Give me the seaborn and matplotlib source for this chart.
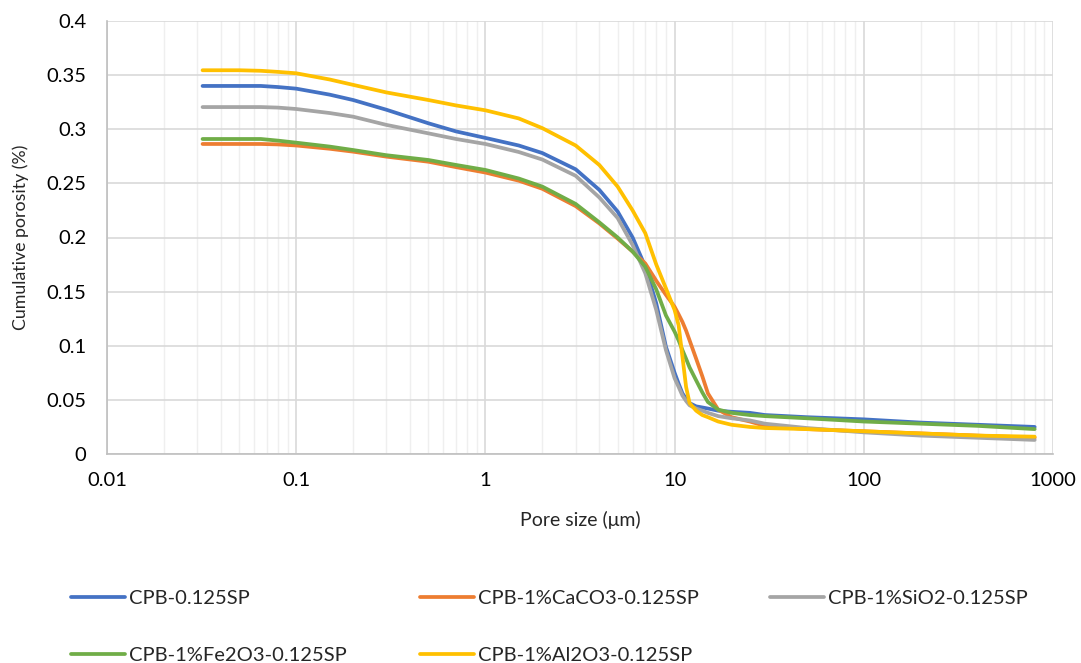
import numpy as np
import pandas as pd
import matplotlib
matplotlib.use("Agg")
import matplotlib.pyplot as plt
import seaborn as sns
from matplotlib.ticker import LogLocator, FixedLocator

pore_size = [0.032, 0.05, 0.065, 0.08, 0.1, 0.15, 0.2, 0.3, 0.5, 0.7, 1, 1.5, 2, 3, 4, 5, 6, 7, 8, 9,
             10, 10.5, 11, 11.5, 12, 13, 14, 15, 17, 20, 25, 30, 50, 100, 200, 400, 800]

cpb_sp = [0.340, 0.340, 0.340, 0.339, 0.3375, 0.332, 0.327, 0.318, 0.3055, 0.298, 0.292, 0.285, 0.278,
          0.263, 0.244, 0.224, 0.200, 0.173, 0.139, 0.099, 0.075, 0.065, 0.056, 0.051, 0.047, 0.044,
          0.043, 0.042, 0.040, 0.039, 0.038, 0.036, 0.034, 0.032, 0.029, 0.027, 0.025]
cpb_caco3 = [0.2864, 0.2864, 0.2864, 0.286, 0.285, 0.282, 0.2793, 0.2747, 0.270, 0.265, 0.260, 0.2525,
             0.245, 0.229, 0.213, 0.199, 0.187, 0.176, 0.160, 0.147, 0.136, 0.129, 0.122, 0.114, 0.105,
             0.088, 0.072, 0.056, 0.041, 0.034, 0.030, 0.026, 0.023, 0.021, 0.019, 0.017, 0.015]
cpb_sio2 = [0.3205, 0.3205, 0.3205, 0.320, 0.3187, 0.315, 0.3116, 0.304, 0.2962, 0.291, 0.2864, 0.279,
            0.272, 0.257, 0.237, 0.218, 0.193, 0.167, 0.133, 0.096, 0.070, 0.062, 0.054, 0.049, 0.045,
            0.042, 0.040, 0.038, 0.035, 0.033, 0.031, 0.028, 0.024, 0.020, 0.017, 0.015, 0.013]
cpb_fe2o3 = [0.291, 0.291, 0.291, 0.2895, 0.2876, 0.284, 0.2808, 0.276, 0.2716, 0.267, 0.2624, 0.2545,
             0.247, 0.231, 0.214, 0.200, 0.187, 0.173, 0.152, 0.128, 0.113, 0.105, 0.096, 0.088, 0.080,
             0.068, 0.057, 0.048, 0.041, 0.038, 0.036, 0.035, 0.033, 0.030, 0.028, 0.026, 0.023]
cpb_al2o3 = [0.3545, 0.3545, 0.354, 0.353, 0.3517, 0.346, 0.341, 0.334, 0.327, 0.322, 0.3175, 0.310,
             0.301, 0.285, 0.267, 0.247, 0.225, 0.204, 0.175, 0.153, 0.133, 0.119, 0.090, 0.062, 0.047,
             0.040, 0.036, 0.034, 0.030, 0.027, 0.025, 0.024, 0.023, 0.021, 0.019, 0.017, 0.016]

series_names = ["CPB-0.125SP", "CPB-1%CaCO3-0.125SP", "CPB-1%SiO2-0.125SP",
                "CPB-1%Fe2O3-0.125SP", "CPB-1%Al2O3-0.125SP"]
series_values = [cpb_sp, cpb_caco3, cpb_sio2, cpb_fe2o3, cpb_al2o3]
colors = ["#4472C4", "#ED7D31", "#A5A5A5", "#70AD47", "#FFC000"]

x_ticks = [0.01, 0.1, 1, 10, 100, 1000]
x_tick_labels = ["0.01", "0.1", "1", "10", "100", "1000"]
y_ticks = [0, 0.05, 0.1, 0.15, 0.2, 0.25, 0.3, 0.35, 0.4]
y_tick_labels = ["0", "0.05", "0.1", "0.15", "0.2", "0.25", "0.3", "0.35", "0.4"]

rows = []
for name, vals in zip(series_names, series_values):
    for xv, yv in zip(pore_size, vals):
        rows.append({"Pore size": xv, "Porosity": yv, "Series": name})
df = pd.DataFrame(rows)

sns.set_theme(style="white")
plt.rcParams["font.family"] = ["Lato", "DejaVu Sans"]

fig = plt.figure(figsize=(10.81, 6.63), dpi=100)
ax = fig.add_axes([107 / 1081, 1 - 454 / 663, (1053 - 107) / 1081, (454 - 21) / 663])

sns.lineplot(data=df, x="Pore size", y="Porosity", hue="Series", hue_order=series_names,
             palette=colors, estimator=None, sort=False, linewidth=2.7, ax=ax, legend=True)
ax.set_xscale("log")
ax.set_xlim(0.01, 1000)
ax.set_ylim(0, 0.4)

ax.xaxis.set_major_locator(FixedLocator(x_ticks))
ax.set_xticklabels(x_tick_labels)
ax.xaxis.set_minor_locator(LogLocator(base=10, subs=np.arange(2, 10), numticks=20))
ax.set_yticks(y_ticks)
ax.set_yticklabels(y_tick_labels)

ax.grid(True, which="major", color="#D9D9D9", linewidth=1.2)
ax.grid(True, which="minor", axis="x", color="#EFEFEF", linewidth=1.0)
ax.set_axisbelow(True)
ax.tick_params(axis="both", which="both", length=0, labelsize=14.5, colors="#000000")
ax.tick_params(axis="x", pad=13)
ax.tick_params(axis="y", pad=15)
for s in ["top", "right"]:
    ax.spines[s].set_visible(False)
for s in ["left", "bottom"]:
    ax.spines[s].set_color("#BFBFBF")
    ax.spines[s].set_linewidth(1.2)

ax.set_xlabel("Pore size (μm)", fontsize=14, labelpad=16)
ax.set_ylabel("Cumulative porosity (%)", fontsize=12.8, labelpad=12)

handles, labels = ax.get_legend_handles_labels()
ax.get_legend().remove()
positions = [(71, 598), (420, 598), (770, 598), (71, 655), (420, 655)]
for h, l, (px, py) in zip(handles, labels, positions):
    fig.legend([h], [l], loc="center left", bbox_to_anchor=(px / 1081, 1 - py / 663),
               frameon=False, fontsize=14.5, handlelength=2.7, handletextpad=0.2,
               borderpad=0, borderaxespad=0)

fig.savefig("out.png", dpi=100)
